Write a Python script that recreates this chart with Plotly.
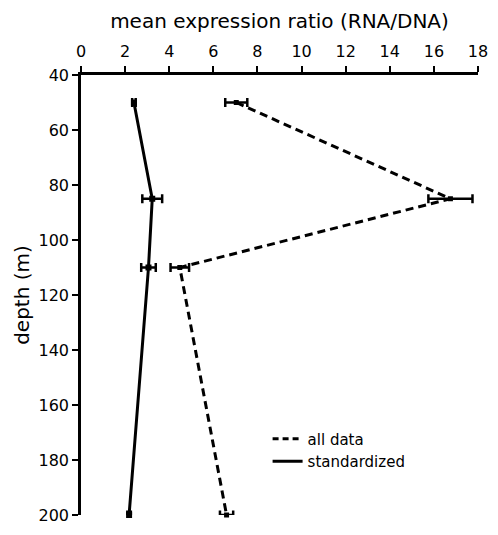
import plotly.graph_objects as go

depth = [50, 85, 110, 200]
all_data = [7.04, 16.75, 4.48, 6.6]
all_err = [0.5, 1.0, 0.42, 0.3]
standardized = [2.4, 3.23, 3.06, 2.18]
std_err = [0.08, 0.45, 0.33, 0.08]

x_ticks = [0, 2, 4, 6, 8, 10, 12, 14, 16, 18]
y_ticks = [40, 60, 80, 100, 120, 140, 160, 180, 200]

font = "DejaVu Sans"
dash = "8px,5px"

fig = go.Figure()
fig.add_trace(go.Scatter(
    x=all_data, y=depth, name="all data", mode="lines+markers", showlegend=False,
    line=dict(color="black", width=3, dash=dash),
    marker=dict(symbol="square", size=5, color="black"),
    error_x=dict(type="data", array=all_err, color="black", thickness=2.5, width=4.5),
    cliponaxis=False,
))
fig.add_trace(go.Scatter(
    x=standardized, y=depth, name="standardized", mode="lines+markers", showlegend=False,
    line=dict(color="black", width=3),
    marker=dict(symbol="square", size=6, color="black"),
    error_x=dict(type="data", array=std_err, color="black", thickness=2.5, width=4.5),
    cliponaxis=False,
))
# legend entries (lines only)
fig.add_trace(go.Scatter(x=[None], y=[None], name="all data", mode="lines",
                         line=dict(color="black", width=3, dash="6px,4px")))
fig.add_trace(go.Scatter(x=[None], y=[None], name="standardized", mode="lines",
                         line=dict(color="black", width=3)))

fig.update_layout(
    width=498, height=535,
    margin=dict(l=81, r=18, t=75, b=10),
    plot_bgcolor="white", paper_bgcolor="white",
    font=dict(family=font, color="black", size=16),
    xaxis=dict(
        side="top", range=[0, 18], tickvals=x_ticks, showgrid=False, zeroline=False,
        showline=True, linecolor="black", linewidth=2.5,
        ticks="outside", ticklen=6, tickwidth=2, tickcolor="black",
        ticklabelstandoff=3,
        title=dict(text="mean expression ratio (RNA/DNA)", font=dict(size=20), standoff=8),
        tickfont=dict(size=16),
    ),
    yaxis=dict(
        range=[200, 40], tickvals=y_ticks, showgrid=False, zeroline=False,
        showline=True, linecolor="black", linewidth=2.5,
        ticks="outside", ticklen=6, tickwidth=2, tickcolor="black",
        title=dict(text="depth (m)", font=dict(size=20), standoff=4),
        tickfont=dict(size=16),
    ),
    legend=dict(
        x=0.47, y=0.21, xanchor="left", yanchor="top",
        bgcolor="rgba(0,0,0,0)", font=dict(size=15),
        itemwidth=30, tracegroupgap=5,
    ),
    showlegend=True,
)

fig.write_html("out.html")
